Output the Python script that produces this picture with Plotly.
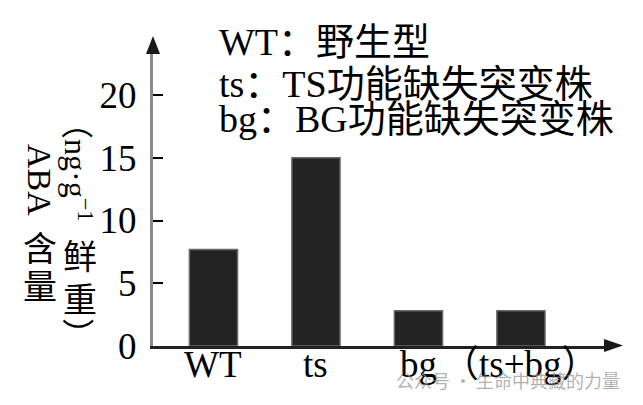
import plotly.graph_objects as go

# ---- data ----
categories = ["WT", "ts", "bg", "（ts+bg）"]
aba_content = [7.7, 15.0, 2.8, 2.8]
y_ticks = [0, 5, 10, 15, 20]
legend_lines = ["WT：野生型", "ts：TS功能缺失突变株", "bg：BG功能缺失突变株"]
watermark = "公众号 · 生命中典藏的力量"

# ---- layout geometry ----
W, H = 643, 405
L, R, T, B = 153, 38, 53, 59
PW, PH = W - L - R, H - T - B


def px(x):
    return (x - L) / PW


def py(y):
    return (H - B - y) / PH


SERIF = "Liberation Serif, Times New Roman, Noto Sans CJK SC, serif"
CJK = "Noto Sans CJK SC, sans-serif"

fig = go.Figure()
fig.add_trace(go.Bar(
    x=categories, y=aba_content, width=0.47,
    marker=dict(color="#232323", line=dict(color="#6a6a6a", width=1.5)),
    showlegend=False,
))

annotations = []
# x category labels placed through the category axis
for c in categories:
    annotations.append(dict(text=c, x=c, xref="x", y=py(364),
                            font=dict(size=37, family=SERIF)))
# y-axis title (vertical Chinese layout)
annotations += [
    dict(text="ABA", x=px(40), y=py(180), textangle=90, font=dict(size=34, family=SERIF)),
    dict(text="含", x=px(40), y=py(246), font=dict(size=34, family=CJK)),
    dict(text="量", x=px(40), y=py(284), font=dict(size=34, family=CJK)),
    dict(text="（ng·g<sup>−1</sup>", x=px(78), y=py(164), textangle=90, font=dict(size=32, family=SERIF)),
    dict(text="鲜", x=px(80), y=py(254), font=dict(size=34, family=CJK)),
    dict(text="重", x=px(80), y=py(297), font=dict(size=34, family=CJK)),
    dict(text="）", x=px(80), y=py(334), textangle=90, font=dict(size=32, family=CJK)),
]
for line, yc in zip(legend_lines, [42, 84, 119]):
    annotations.append(dict(text=line, x=px(217), y=py(yc), xanchor="left",
                            font=dict(size=38, family=SERIF)))
annotations.append(dict(text=watermark, x=px(394), y=py(380), xanchor="left",
                        font=dict(size=18, family=CJK, color="rgba(150,150,150,0.75)")))
for a in annotations:
    a.setdefault("xref", "paper")
    a.setdefault("yref", "paper")
    a.setdefault("showarrow", False)
    a.setdefault("yanchor", "middle")
    a.setdefault("xanchor", "center")
    a["font"].setdefault("color", "black")

# arrowheads on axes
shapes = [
    dict(type="path", xref="paper", yref="paper",
         path=f"M {px(153)},{py(36)} L {px(146)},{py(54)} L {px(160)},{py(54)} Z",
         fillcolor="#1a1a1a", line=dict(width=0)),
    dict(type="path", xref="paper", yref="paper",
         path=f"M {px(623)},{py(345.5)} L {px(604)},{py(339)} L {px(604)},{py(352)} Z",
         fillcolor="#1a1a1a", line=dict(width=0)),
]

fig.update_layout(
    width=W, height=H, autosize=False,
    margin=dict(l=L, r=R, t=T, b=B, pad=0),
    plot_bgcolor="white", paper_bgcolor="white",
    annotations=annotations, shapes=shapes,
    xaxis=dict(type="category", range=[-0.59, 3.82], showline=True, linecolor="#222",
               linewidth=3, ticks="", showgrid=False, zeroline=False,
               showticklabels=False),
    yaxis=dict(range=[0, 23.35], tickvals=y_ticks, showline=True, linecolor="#8a8a8a",
               linewidth=3, ticks="inside", ticklen=10, tickwidth=2, tickcolor="black",
               showgrid=False, zeroline=False, ticklabelstandoff=6,
               tickfont=dict(size=37, family=SERIF, color="black")),
    bargap=0.5,
)

fig.write_html("out.html", config={"displayModeBar": False},
               post_script="document.body.style.margin='0';document.body.style.padding='0';")
